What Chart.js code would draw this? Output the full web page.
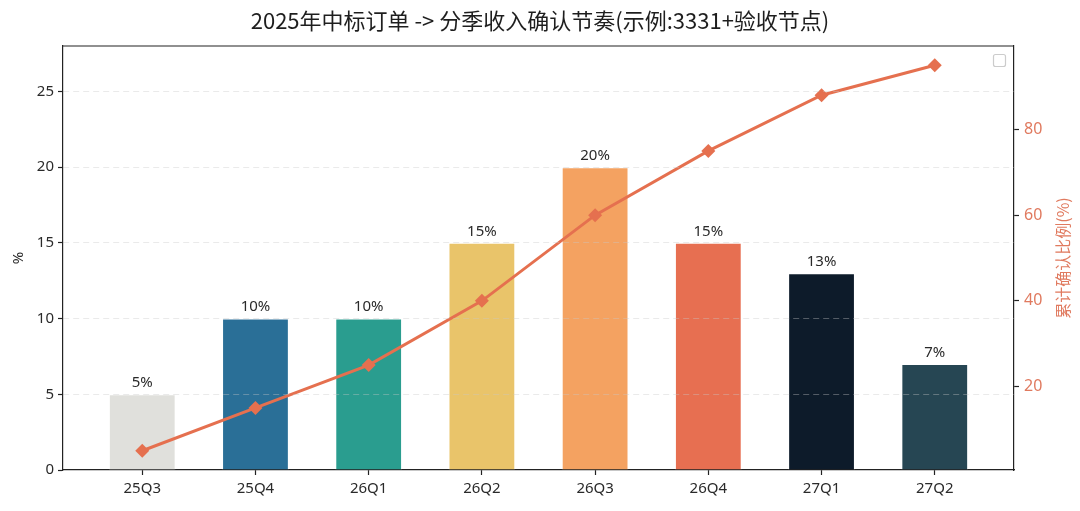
<!DOCTYPE html>
<html><head><meta charset="utf-8">
<script src="https://cdn.jsdelivr.net/npm/chart.js@4/dist/chart.umd.min.js"></script>
<style>html,body{margin:0;padding:0;background:#fff;overflow:hidden}#wrap{width:1080px;height:511px;position:relative}</style>
</head><body><div id="wrap"><canvas id="c"></canvas></div>
<script>
const categories = ['25Q3','25Q4','26Q1','26Q2','26Q3','26Q4','27Q1','27Q2'];
const quarterShare = [5,10,10,15,20,15,13,7];
const cumulativeShare = [5,15,25,40,60,75,88,95];
const barColors = ['#e0e0dc','#2a6f97','#2a9d8f','#e9c46a','#f4a261','#e76f51','#0d1b2a','#264653'];
const leftTicks = [0,5,10,15,20,25];
const rightTicks = [20,40,60,80];
const titleText = '2025年中标订单 -> 分季收入确认节奏(示例:3331+验收节点)';
const leftTitle = '%';
const rightTitle = '累计确认比例(%)';

const FONT = "'Noto Sans', 'Noto Sans CJK SC', sans-serif";
const lineColor = '#e5704f';
const rightColor = '#e07a5f';
const gridColor = 'rgba(200,200,200,0.38)';

const extras = {
  id: 'extras',
  afterDraw(chart) {
    const ctx = chart.ctx, a = chart.chartArea;
    ctx.save();
    // top spine
    ctx.strokeStyle = '#222'; ctx.lineWidth = 1.2;
    ctx.beginPath(); ctx.moveTo(a.left, a.top); ctx.lineTo(a.right, a.top); ctx.stroke();
    // title
    ctx.fillStyle = '#1e1e1e';
    ctx.font = "22px 'Noto Sans CJK SC', 'Noto Sans', sans-serif";
    ctx.textAlign = 'center'; ctx.textBaseline = 'middle';
    ctx.fillText(titleText, chart.width / 2, 21);
    // bar labels
    const meta = chart.getDatasetMeta(1);
    ctx.font = "15px " + FONT;
    ctx.fillStyle = '#2a2a2a';
    ctx.textBaseline = 'bottom';
    meta.data.forEach((el, i) => {
      ctx.fillText(quarterShare[i] + '%', el.x, el.y - 4);
    });
    // right axis title
    ctx.save();
    ctx.translate(1063, (a.top + a.bottom) / 2);
    ctx.rotate(-Math.PI / 2);
    ctx.fillStyle = rightColor;
    ctx.font = "16px 'Noto Sans CJK SC', 'Noto Sans', sans-serif";
    ctx.textAlign = 'center'; ctx.textBaseline = 'middle';
    ctx.fillText(rightTitle, 0, 0);
    ctx.restore();
    // empty legend box
    ctx.strokeStyle = '#cccccc'; ctx.lineWidth = 1.2;
    ctx.beginPath();
    const bx = a.right - 21, by = a.top + 8;
    if (ctx.roundRect) ctx.roundRect(bx + 0.5, by + 0.5, 12, 12, 2); else ctx.rect(bx + 0.5, by + 0.5, 12, 12);
    ctx.stroke();
    ctx.restore();
  }
};

new Chart(document.getElementById('c'), {
  type: 'bar',
  data: {
    datasets: [
      {
        type: 'line',
        data: cumulativeShare.map((v, i) => ({x: i, y: v})),
        yAxisID: 'y1',
        borderColor: lineColor,
        backgroundColor: lineColor,
        borderWidth: 3,
        pointStyle: 'rectRot',
        pointRadius: 7,
        pointBorderWidth: 0,
        tension: 0,
        order: 0
      },
      {
        type: 'bar',
        data: quarterShare.map((v, i) => ({x: i, y: v})),
        yAxisID: 'y',
        backgroundColor: barColors,
        borderColor: 'rgba(255,255,255,0.5)',
        borderWidth: 1,
        categoryPercentage: 1,
        barPercentage: 0.59,
        order: 1
      }
    ]
  },
  options: {
    responsive: true,
    maintainAspectRatio: false,
    animation: false,
    layout: {padding: {top: 46, left: 0, right: 0, bottom: 0}},
    plugins: {legend: {display: false}, title: {display: false}, tooltip: {enabled: false}},
    scales: {
      x: {
        type: 'linear',
        offset: false,
        min: -0.7, max: 7.7,
        afterBuildTicks: s => { s.ticks = categories.map((c, i) => ({value: i})); },
        afterFit: s => { s.height = 41; },
        ticks: {callback: v => categories[v], color: '#2a2a2a', font: {family: FONT, size: 15}, padding: 5, autoSkip: false, maxRotation: 0},
        grid: {offset: false, drawOnChartArea: false, drawTicks: true, tickLength: 5, tickColor: '#222', tickWidth: 1.2},
        border: {display: true, color: '#222', width: 1.2}
      },
      y: {
        position: 'left',
        min: 0, max: 28,
        afterBuildTicks: s => { s.ticks = leftTicks.map(v => ({value: v})); },
        afterFit: s => { s.width = 63; },
        ticks: {color: '#2a2a2a', font: {family: FONT, size: 15}, padding: 4},
        title: {display: true, text: leftTitle, color: '#2a2a2a', font: {family: FONT, size: 15}, padding: {top: 10, bottom: 4}},
        grid: {
          z: 1,
          color: c => (c.tick && c.tick.value === 0) ? 'rgba(0,0,0,0)' : gridColor,
          lineWidth: 1,
          tickLength: 5, tickColor: '#222', tickWidth: 1.2
        },
        border: {display: true, color: '#222', width: 1.2, dash: [6, 4], z: 1}
      },
      y1: {
        position: 'right',
        min: 0.5, max: 99.5,
        afterBuildTicks: s => { s.ticks = rightTicks.map(v => ({value: v})); },
        afterFit: s => { s.width = 66; },
        ticks: {color: rightColor, font: {family: FONT, size: 16}, padding: 5},
        grid: {drawOnChartArea: false, tickLength: 5, tickColor: '#222', tickWidth: 1.2},
        border: {display: true, color: '#222', width: 1.2}
      }
    }
  },
  plugins: [extras]
});
</script>
</body></html>
